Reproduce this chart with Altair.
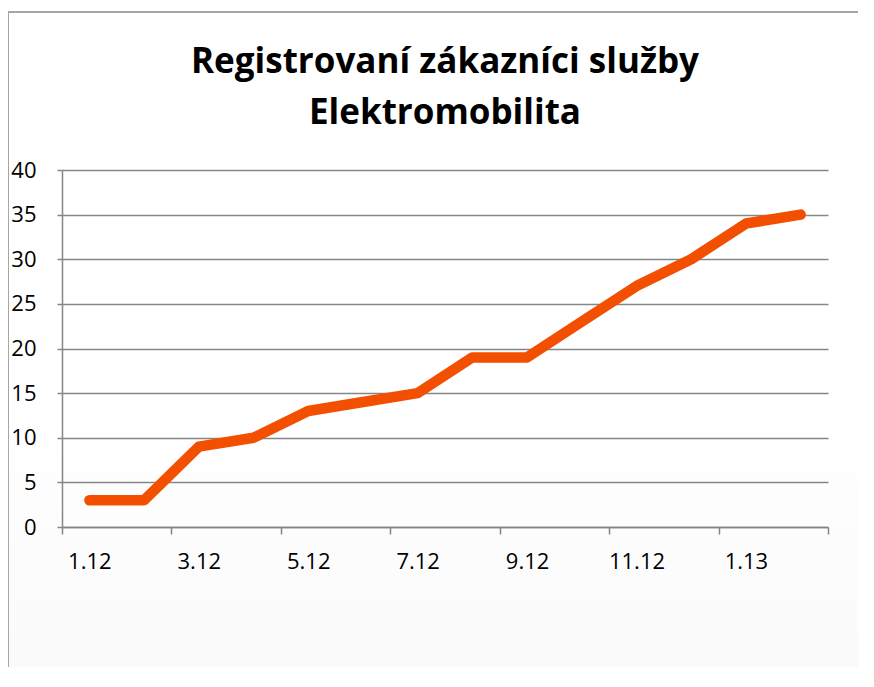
import altair as alt
import pandas as pd

months = ["1.12", "2.12", "3.12", "4.12", "5.12", "6.12", "7.12",
          "8.12", "9.12", "10.12", "11.12", "12.12", "1.13", "2.13"]
customers = [3, 3, 9, 10, 13, 14, 15, 19, 19, 23, 27, 30, 34, 35]
y_ticks = [0, 5, 10, 15, 20, 25, 30, 35, 40]

df = pd.DataFrame({"idx": list(range(len(months))), "month": months, "value": customers})

n = len(months)
# tick positions at band boundaries every two months, labels at every other month centre
x_values = sorted(set([-0.5 + 2 * k for k in range(n // 2 + 1)] + list(range(0, n, 2))))
label_arr = "[" + ",".join("'" + m + "'" for m in months) + "]"
label_expr = "datum.value % 2 == 0 ? " + label_arr + "[datum.value] : ''"

FONT = "Open Sans"
GREY = "#868686"

frame = alt.Chart(df).mark_rect(
    stroke="#a6a6a6", strokeWidth=2,
    fill=alt.LinearGradient(
        gradient="linear", x1=0, y1=0, x2=0, y2=1,
        stops=[alt.GradientStop(color="rgba(0,0,0,0)", offset=0),
               alt.GradientStop(color="rgba(0,0,0,0)", offset=0.45),
               alt.GradientStop(color="rgba(0,0,0,0.035)", offset=1)]),
).encode(
    x=alt.value(-54), x2=alt.value(900), y=alt.value(-158), y2=alt.value(700)
).transform_filter("datum.idx == 0")

line = alt.Chart(df).mark_line(
    color="#f25000", strokeWidth=10.5, strokeCap="round", strokeJoin="round"
).encode(
    x=alt.X("idx:Q",
            scale=alt.Scale(domain=[-0.5, n - 0.5], nice=False, zero=False),
            axis=alt.Axis(title=None, values=x_values, grid=False,
                          tickSize=7, tickColor=GREY, tickWidth=1.5,
                          tickOpacity={"condition": {"test": "datum.value % 2 != 0", "value": 1}, "value": 0},
                          domainColor=GREY, domainWidth=1.5,
                          labelExpr=label_expr,
                          labelPadding=17, labelFlush=False, labelOverlap=False,
                          labelFont=FONT, labelFontSize=22, labelColor="#000000")),
    y=alt.Y("value:Q",
            scale=alt.Scale(domain=[0, 40], nice=False),
            axis=alt.Axis(title=None, values=y_ticks, grid=True,
                          gridColor=GREY, gridWidth=1.3,
                          tickSize=5, tickColor=GREY, tickWidth=1.5,
                          domainColor=GREY, domainWidth=1.5,
                          labelPadding=21, labelFont=FONT, labelFontSize=22,
                          labelColor="#000000")),
    order="idx:Q",
)

chart = alt.layer(frame, line).properties(
    width=766, height=357,
    title=alt.TitleParams(
        text=["Registrovaní zákazníci služby", "Elektromobilita"],
        font=FONT, fontSize=35, fontWeight="bold", color="#000000",
        lineHeight=51, anchor="middle", frame="group", offset=-120),
    autosize=alt.AutoSizeParams(type="none"),
    padding={"left": 54, "top": 162, "right": 30, "bottom": 140},
).configure_view(stroke=None)

chart.save("out.html", embed_options={"renderer": "svg", "actions": False})
